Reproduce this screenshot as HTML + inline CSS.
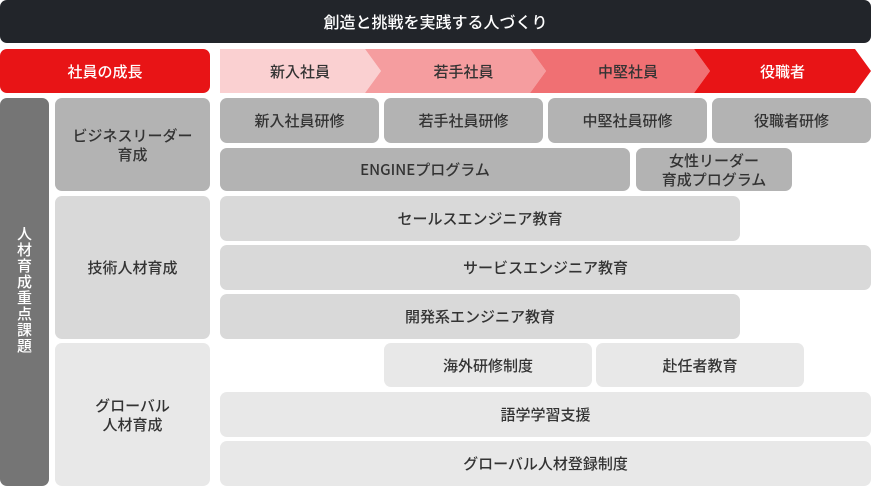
<!DOCTYPE html><html><head><meta charset="utf-8"><style>
body{margin:0;width:871px;height:487px;background:#fff;position:relative;overflow:hidden;font-family:"Noto Sans CJK JP","Liberation Sans",sans-serif;}
.b{position:absolute;display:flex;align-items:center;justify-content:center;text-align:center;border-radius:7px;font-size:15px;font-weight:500;color:#333;line-height:19px;box-sizing:border-box}
.d{background:#b3b3b3}.m{background:#d9d9d9}.l{background:#e8e8e8}
svg{position:absolute;left:0;top:0}
</style></head><body>
<div class="b" style="left:0;top:0;width:871px;height:43px;background:#22252a;color:#fff;font-size:16px">創造と挑戦を実践する人づくり</div>
<div class="b" style="left:0;top:49px;width:210px;height:44px;background:#e81416;color:#fff">社員の成長</div>
<svg width="871" height="487">
<polygon points="220,49 365,49 381,71 365,93 220,93" fill="#fad0d1"/>
<polygon points="365,49 530,49 546,71 530,93 365,93 381,71" fill="#f59d9f"/>
<polygon points="530,49 694,49 710,71 694,93 530,93 546,71" fill="#f07073"/>
<polygon points="694,49 855,49 871,71 855,93 694,93 710,71" fill="#e81416"/>
</svg>
<div class="b" style="left:220px;top:49px;width:160px;height:44px;background:none">新入社員</div>
<div class="b" style="left:381px;top:49px;width:165px;height:44px;background:none">若手社員</div>
<div class="b" style="left:546px;top:49px;width:164px;height:44px;background:none">中堅社員</div>
<div class="b" style="left:710px;top:49px;width:145px;height:44px;background:none;color:#fff">役職者</div>
<div class="b" style="left:0;top:98px;width:49px;height:388px;background:#757575;color:#fff;line-height:16px;padding:0 16px;align-items:flex-start;padding-top:128px">人材育成重点課題</div>
<div class="b d" style="left:55px;top:98px;width:155px;height:93px">ビジネスリーダー<br>育成</div>
<div class="b m" style="left:55px;top:196px;width:155px;height:143px">技術人材育成</div>
<div class="b l" style="left:55px;top:343px;width:155px;height:143px">グローバル<br>人材育成</div>
<div class="b d" style="left:220px;top:98px;width:159px;height:45px">新入社員研修</div>
<div class="b d" style="left:384px;top:98px;width:159px;height:45px">若手社員研修</div>
<div class="b d" style="left:548px;top:98px;width:159px;height:45px">中堅社員研修</div>
<div class="b d" style="left:712px;top:98px;width:159px;height:45px">役職者研修</div>
<div class="b d" style="left:220px;top:148px;width:410px;height:43px">ENGINEプログラム</div>
<div class="b d" style="left:636px;top:148px;width:156px;height:43px">女性リーダー<br>育成プログラム</div>
<div class="b m" style="left:220px;top:196px;width:520px;height:45px">セールスエンジニア教育</div>
<div class="b m" style="left:220px;top:245px;width:651px;height:45px">サービスエンジニア教育</div>
<div class="b m" style="left:220px;top:294px;width:520px;height:45px">開発系エンジニア教育</div>
<div class="b l" style="left:384px;top:343px;width:208px;height:44px">海外研修制度</div>
<div class="b l" style="left:596px;top:343px;width:208px;height:44px">赴任者教育</div>
<div class="b l" style="left:220px;top:392px;width:651px;height:45px">語学学習支援</div>
<div class="b l" style="left:220px;top:441px;width:651px;height:45px">グローバル人材登録制度</div>
</body></html>
